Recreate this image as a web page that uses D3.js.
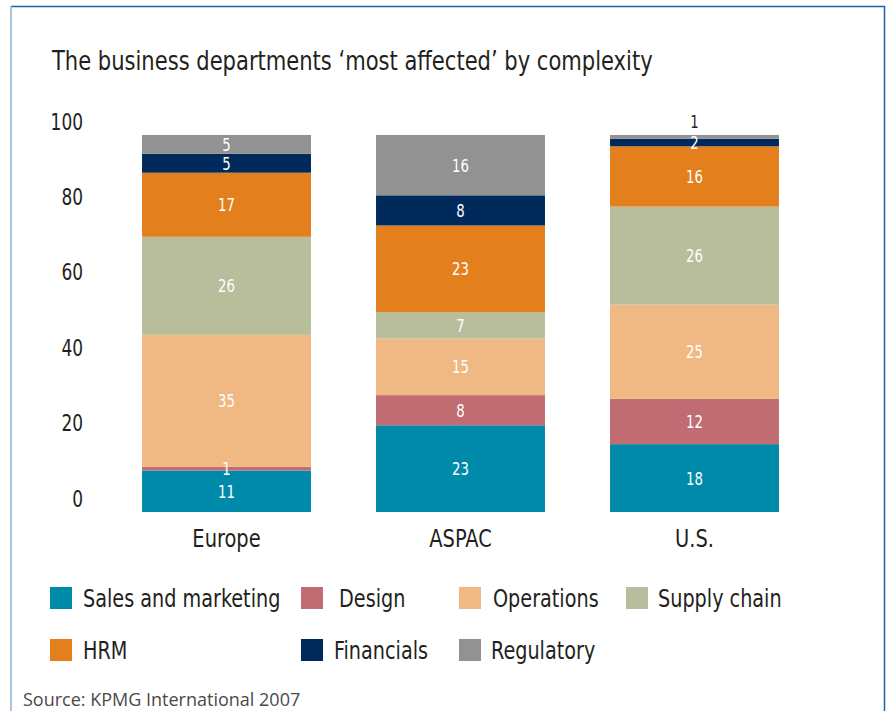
<!DOCTYPE html>
<html>
<head>
<meta charset="utf-8">
<script src="https://cdn.jsdelivr.net/npm/d3@7"></script>
<style>
  html, body { margin: 0; padding: 0; background: #fff; }
  svg { display: block; }
  .cond { font-family: "Liberation Sans Narrow", "DejaVu Sans Condensed", "Arial Narrow", sans-serif; }
</style>
</head>
<body>
<svg id="chart" width="888" height="711"></svg>
<script>
// Regions along the x axis
const regions = ["Europe", "ASPAC", "U.S."];

// Departments, stacked bottom to top
const departments = ["Sales and marketing", "Design", "Operations", "Supply chain", "HRM", "Financials", "Regulatory"];

// Share (%) per department, one array per region, in department order
const europeValues = [11, 1, 35, 26, 17, 5, 5];
const aspacValues  = [23, 8, 15, 7, 23, 8, 16];
const usValues     = [18, 12, 25, 26, 16, 2, 1];

const yTicks = [0, 20, 40, 60, 80, 100];

const colors = ["#008aa9", "#c16b73", "#f0b883", "#b8bd9b", "#e47f1e", "#002a5c", "#929292"];

const seriesByRegion = [europeValues, aspacValues, usValues];
const rows = regions.map((r, i) => {
  const row = { region: r };
  departments.forEach((d, j) => { row[d] = seriesByRegion[i][j]; });
  return row;
});

// Squeeze text horizontally to get a condensed face from the installed fonts
function condense(sel, factor) {
  sel.each(function () {
    const w = this.getComputedTextLength();
    d3.select(this).attr("textLength", w * factor).attr("lengthAdjust", "spacingAndGlyphs");
  });
}

const svg = d3.select("#chart");

// Frame
svg.append("line").attr("x1", 11).attr("y1", 6.5).attr("x2", 885).attr("y2", 6.5)
  .attr("stroke", "#1f5fae").attr("stroke-width", 1.5);
svg.append("line").attr("x1", 11).attr("y1", 6).attr("x2", 11).attr("y2", 711)
  .attr("stroke", "#8fb3da").attr("stroke-width", 1.5);
svg.append("line").attr("x1", 884.5).attr("y1", 6).attr("x2", 884.5).attr("y2", 711)
  .attr("stroke", "#1f5fae").attr("stroke-width", 1.5);

// Title
svg.append("text").attr("class", "cond")
  .attr("x", 52).attr("y", 70)
  .attr("font-size", 26).attr("fill", "#231f20")
  .text("The business departments \u2018most affected\u2019 by complexity")
  .call(condense, 0.9);

const x = d3.scaleBand().domain(regions).range([109.5, 811.5]).paddingInner(0.278).paddingOuter(0.139);
const y = d3.scaleLinear().domain([0, 100]).range([512, 135]);

const stack = d3.stack().keys(departments);
const layers = stack(rows);

// Y axis: labels only, sitting slightly above their value
const yAxis = d3.axisLeft(y).tickValues(yTicks).tickSize(0).tickPadding(0);
const yg = svg.append("g").attr("class", "cond").attr("transform", "translate(83,0)").call(yAxis);
yg.select(".domain").remove();
yg.selectAll("text").attr("font-family", null).attr("font-size", 23).attr("fill", "#231f20")
  .attr("dy", "0.35em").attr("y", -14).call(condense, 0.82);

// X axis labels
const xAxis = d3.axisBottom(x).tickSize(0).tickPadding(0);
const xg = svg.append("g").attr("class", "cond").attr("transform", "translate(0,547)").call(xAxis);
xg.select(".domain").remove();
xg.selectAll("text").attr("font-family", null).attr("font-size", 24).attr("fill", "#231f20").attr("dy", 0)
  .call(condense, 0.9);

// Bars
const layerG = svg.append("g").selectAll("g").data(layers).join("g")
  .attr("fill", (d, i) => colors[i]);
layerG.selectAll("rect").data(d => d.map(s => ({ s, key: d.key })))
  .join("rect")
  .attr("x", d => x(d.s.data.region))
  .attr("y", d => y(d.s[1]))
  .attr("width", x.bandwidth())
  .attr("height", d => y(d.s[0]) - y(d.s[1]));

// Value labels (a sliver at the very top gets its label above the bar)
const labels = [];
layers.forEach((layer, li) => {
  layer.forEach(s => {
    const h = y(s[0]) - y(s[1]);
    const isTop = li === layers.length - 1;
    const outside = isTop && h < 6;
    labels.push({
      x: x(s.data.region) + x.bandwidth() / 2,
      y: outside ? y(s[1]) - 13 : (y(s[0]) + y(s[1])) / 2,
      text: String(s.data[layer.key]),
      fill: outside ? "#231f20" : "#ffffff"
    });
  });
});
svg.append("g").attr("class", "cond").selectAll("text").data(labels).join("text")
  .attr("x", d => d.x).attr("y", d => d.y).attr("dy", "0.36em")
  .attr("text-anchor", "middle").attr("font-size", 18)
  .attr("fill", d => d.fill).text(d => d.text)
  .call(condense, 0.82);

// Legend
const legendPos = [
  { sx: 50, tx: 83, y: 598 }, { sx: 301, tx: 339, y: 598 }, { sx: 459, tx: 493, y: 598 }, { sx: 626, tx: 658, y: 598 },
  { sx: 50, tx: 83, y: 650 }, { sx: 301, tx: 334, y: 650 }, { sx: 459, tx: 491, y: 650 }
];
const lg = svg.append("g").attr("class", "cond").selectAll("g").data(departments).join("g");
lg.append("rect").attr("x", (d, i) => legendPos[i].sx).attr("y", (d, i) => legendPos[i].y - 11)
  .attr("width", 22).attr("height", 22).attr("fill", (d, i) => colors[i]);
lg.append("text").attr("x", (d, i) => legendPos[i].tx).attr("y", (d, i) => legendPos[i].y)
  .attr("dy", "0.36em").attr("font-size", 24).attr("fill", "#231f20").text(d => d)
  .call(condense, 0.89);

// Source note
svg.append("text").attr("x", 23).attr("y", 706)
  .attr("font-family", "'Open Sans', 'Noto Sans', sans-serif").attr("font-size", 18)
  .attr("fill", "#4a4a4a").text("Source: KPMG International 2007");
</script>
</body>
</html>
